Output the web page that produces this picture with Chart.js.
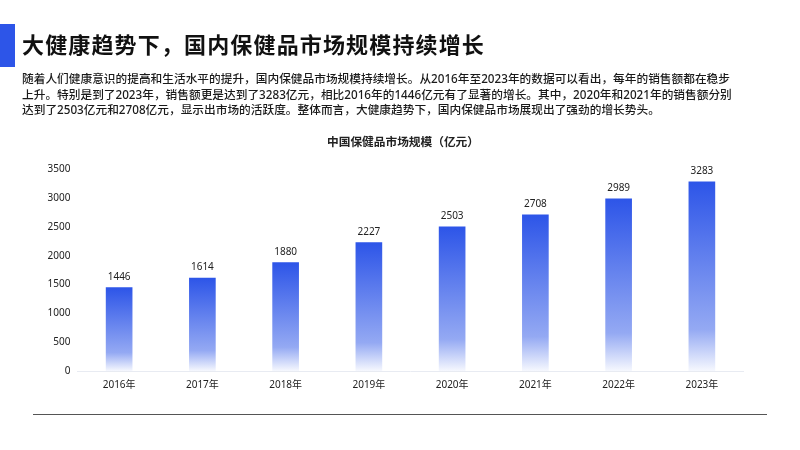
<!DOCTYPE html>
<html lang="zh">
<head>
<meta charset="utf-8">
<script src="https://cdn.jsdelivr.net/npm/chart.js@4"></script>
<style>
html, body { margin: 0; padding: 0; background: #fff; }
body { width: 800px; height: 450px; overflow: hidden; position: relative; font-family: "Noto Sans", "Noto Sans CJK SC", sans-serif; color: #111; }
#chart { position: absolute; left: 0; top: 0; }
#mark { position: absolute; left: 0; top: 24px; width: 15px; height: 43px; background: #2d55e8; }
#head { position: absolute; left: 22px; top: 28px; font-size: 22px; line-height: 32px; font-weight: 700; letter-spacing: 1.15px; white-space: nowrap; }
#desc { position: absolute; left: 22px; top: 71px; font-size: 11.7px; line-height: 15.5px; font-weight: 500; white-space: nowrap; color: #1a1a1a; }
#sub { position: absolute; left: 327px; top: 132px; font-size: 11.7px; line-height: 18px; font-weight: 700; color: #222; white-space: nowrap; }
#rule { position: absolute; left: 33px; top: 414px; width: 734px; height: 1px; background: #555; }
</style>
</head>
<body>
<canvas id="chart" width="800" height="450"></canvas>
<div id="mark"></div>
<div id="head">大健康趋势下，国内保健品市场规模持续增长</div>
<div id="desc">随着人们健康意识的提高和生活水平的提升，国内保健品市场规模持续增长。从2016年至2023年的数据可以看出，每年的销售额都在稳步<br>上升。特别是到了2023年，销售额更是达到了3283亿元，相比2016年的1446亿元有了显著的增长。其中，2020年和2021年的销售额分别<br>达到了2503亿元和2708亿元，显示出市场的活跃度。整体而言，大健康趋势下，国内保健品市场展现出了强劲的增长势头。</div>
<div id="sub">中国保健品市场规模（亿元）</div>
<div id="rule"></div>
<script>
var years = ['2016年', '2017年', '2018年', '2019年', '2020年', '2021年', '2022年', '2023年'];
var sales = [1446, 1614, 1880, 2227, 2503, 2708, 2989, 3283];
var yTicks = [0, 500, 1000, 1500, 2000, 2500, 3000, 3500];

var fontName = '"Noto Sans", "Noto Sans CJK SC", sans-serif';

// each bar fades from solid blue at its top to almost white at the axis
function barFill(context) {
    var chart = context.chart;
    if (!chart.chartArea || context.parsed === undefined) return '#2d55e8';
    var y = chart.scales.y;
    var g = chart.ctx.createLinearGradient(0, y.getPixelForValue(context.parsed.y), 0, y.getPixelForValue(0));
    g.addColorStop(0, '#2d55e8');
    g.addColorStop(0.78, '#94a9f3');
    g.addColorStop(1, '#f6f8fe');
    return g;
}

var valueLabels = {
    id: 'valueLabels',
    afterDatasetsDraw: function (chart) {
        var ctx = chart.ctx;
        var meta = chart.getDatasetMeta(0);
        ctx.save();
        ctx.font = '10px ' + fontName;
        ctx.fillStyle = '#222';
        ctx.textAlign = 'center';
        ctx.textBaseline = 'bottom';
        meta.data.forEach(function (bar, i) {
            ctx.fillText(sales[i], bar.x, bar.y - 6);
        });
        ctx.restore();
    }
};

var c = document.getElementById('chart');
var ctx = c.getContext('2d');
var myChart = new Chart(ctx, {
    type: 'bar',
    data: {
        labels: years,
        datasets: [{
            label: '中国保健品市场规模（亿元）',
            data: sales,
            backgroundColor: barFill,
            borderWidth: 0,
            barThickness: 26
        }]
    },
    options: {
        responsive: false,
        animation: false,
        layout: { padding: { top: 169.3, right: 56.5 } },
        plugins: {
            legend: { display: false },
            tooltip: { enabled: false }
        },
        scales: {
            x: {
                grid: { display: false, drawTicks: false },
                border: { color: '#e8ebf2' },
                ticks: { color: '#222', padding: 8, font: { family: fontName, size: 10 } },
                afterFit: function (scale) { scale.height = 79; }
            },
            y: {
                min: 0,
                max: 3500,
                afterBuildTicks: function (scale) {
                    scale.ticks = yTicks.map(function (v) { return { value: v }; });
                },
                grid: { display: false, drawTicks: false },
                border: { display: false },
                ticks: {
                    color: '#222',
                    padding: 7,
                    font: { family: fontName, size: 10 },
                    callback: function (v) { return String(v); }
                },
                afterFit: function (scale) { scale.width = 77.5; }
            }
        }
    },
    plugins: [valueLabels]
});
</script>
</body>
</html>
